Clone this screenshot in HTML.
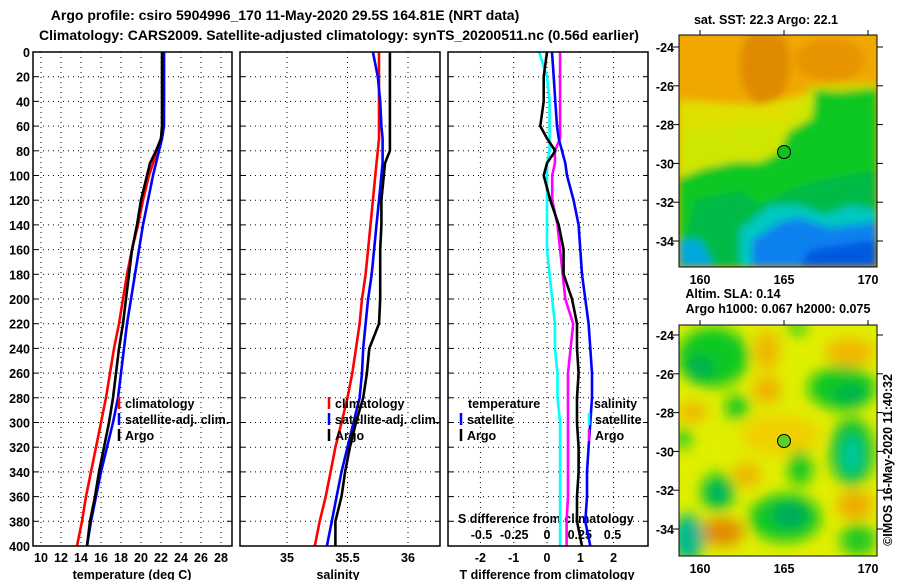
<!DOCTYPE html>
<html><head><meta charset="utf-8"><style>
html,body{margin:0;padding:0;background:#fff;}
svg{display:block;}
text{font-family:"Liberation Sans",Arial,sans-serif;font-weight:bold;font-size:12.5px;fill:#000;}
.t{font-size:14px;}
</style></head>
<body>
<svg id="chart" width="900" height="580" viewBox="0 0 900 580" xmlns="http://www.w3.org/2000/svg">
<defs>
<clipPath id="c1"><rect x="33" y="52" width="199" height="494"/></clipPath>
<clipPath id="c2"><rect x="240" y="52" width="200" height="494"/></clipPath>
<clipPath id="c3"><rect x="448" y="52" width="200" height="494"/></clipPath>
<clipPath id="cm1"><rect x="679" y="35" width="198" height="232"/></clipPath>
<clipPath id="cm2"><rect x="679" y="325" width="198" height="231"/></clipPath>
<filter id="bl" x="-10%" y="-10%" width="120%" height="120%"><feGaussianBlur stdDeviation="4"/></filter>
<filter id="bl2" x="-20%" y="-20%" width="140%" height="140%"><feGaussianBlur stdDeviation="7"/></filter>
</defs>
<text class="t" x="285" y="20" text-anchor="middle">Argo profile: csiro 5904996_170 11-May-2020 29.5S 164.81E (NRT data)</text>
<text class="t" x="339" y="40" text-anchor="middle">Climatology: CARS2009. Satellite-adjusted climatology: synTS_20200511.nc (0.56d earlier)</text>

<!-- top map -->
<g clip-path="url(#cm1)">
<rect x="679" y="35" width="198" height="232" fill="#f0a800"/>
<g filter="url(#bl)">
<ellipse cx="765" cy="65" rx="25" ry="40" fill="#e08a00"/>
<ellipse cx="830" cy="60" rx="35" ry="22" fill="#e89400"/>
<path d="M679,100 L760,105 L800,95 L877,90 L877,267 L679,267 Z" fill="#e0e000"/>
<path d="M679,130 L740,125 L790,120 L810,85 L877,82 L877,267 L679,267 Z" fill="#c8e800" opacity="0.7"/>
<path d="M679,178 L705,168 L735,162 L760,162 L780,152 L788,132 L812,118 L815,90 L840,92 L877,88 L877,267 L679,267 Z" fill="#10c820"/>
<path d="M695,200 L740,190 L760,205 L790,190 L820,180 L877,170 L877,267 L679,267 Z" fill="#00b060" opacity="0.6"/>
<path d="M740,230 L770,205 L800,205 L825,215 L850,205 L877,210 L877,267 L740,267 Z" fill="#00c8c0"/>
<path d="M752,267 L752,240 L780,222 L800,218 L830,228 L877,222 L877,267 Z" fill="#0a80f0"/>
<path d="M800,267 L810,250 L877,240 L877,267 Z" fill="#0058e0"/>
<path d="M679,240 L700,240 L715,267 L679,267 Z" fill="#00a8e0"/>
</g>
</g>
<rect x="679" y="35" width="198" height="232" fill="none" stroke="#000" stroke-width="1"/>
<circle cx="784" cy="152" r="6.5" fill="#10c020" stroke="#000" stroke-width="1"/>
<text x="766" y="24" text-anchor="middle">sat. SST: 22.3 Argo: 22.1</text>

<!-- bottom map -->
<g clip-path="url(#cm2)">
<rect x="679" y="325" width="198" height="231" fill="#e0ee00"/>
<g filter="url(#bl2)">
<ellipse cx="767" cy="350" rx="12" ry="20" fill="#f0b400"/>
<ellipse cx="767" cy="390" rx="14" ry="14" fill="#f0b000"/>
<ellipse cx="850" cy="352" rx="25" ry="14" fill="#f0b800"/>
<ellipse cx="693" cy="412" rx="14" ry="10" fill="#f0b400"/>
<ellipse cx="747" cy="475" rx="14" ry="12" fill="#f0b400"/>
<ellipse cx="722" cy="532" rx="22" ry="14" fill="#e08a00"/>
<ellipse cx="855" cy="505" rx="18" ry="14" fill="#f0a800"/>
<ellipse cx="780" cy="435" rx="40" ry="20" fill="#f0d000"/>
<ellipse cx="713" cy="357" rx="36" ry="30" fill="#10c820"/>
<ellipse cx="700" cy="368" rx="14" ry="12" fill="#00b050"/>
<ellipse cx="797" cy="328" rx="10" ry="6" fill="#10c820"/>
<ellipse cx="842" cy="388" rx="34" ry="22" fill="#10c820"/>
<ellipse cx="850" cy="395" rx="16" ry="10" fill="#00b050"/>
<ellipse cx="737" cy="407" rx="12" ry="12" fill="#10c820"/>
<ellipse cx="683" cy="438" rx="8" ry="10" fill="#10c820"/>
<ellipse cx="852" cy="452" rx="22" ry="34" fill="#10c030"/>
<ellipse cx="852" cy="455" rx="10" ry="20" fill="#00c8a0"/>
<ellipse cx="800" cy="468" rx="12" ry="18" fill="#10c820"/>
<ellipse cx="718" cy="492" rx="17" ry="19" fill="#10c820"/>
<ellipse cx="718" cy="493" rx="9" ry="10" fill="#00a870"/>
<ellipse cx="785" cy="518" rx="36" ry="24" fill="#10c820"/>
<ellipse cx="790" cy="515" rx="18" ry="12" fill="#00a860"/>
<ellipse cx="688" cy="538" rx="16" ry="24" fill="#00b890"/>
<ellipse cx="858" cy="540" rx="18" ry="16" fill="#20c820"/>
</g>
</g>
<rect x="679" y="325" width="198" height="231" fill="none" stroke="#000" stroke-width="1"/>
<circle cx="784" cy="441" r="6.5" fill="#60d020" stroke="#000" stroke-width="1"/>
<text x="733" y="298" text-anchor="middle">Altim. SLA: 0.14</text>
<text x="778" y="313" text-anchor="middle">Argo h1000: 0.067 h2000: 0.075</text>
<text transform="translate(892,460) rotate(-90)" text-anchor="middle">©IMOS 16-May-2020 11:40:32</text>
<g id="mapaxes"></g>

<g id="plots"></g>
</svg>
<script>
const depths=[0,20,40,60,70,80,90,100,120,140,160,180,200,220,240,260,280,300,320,340,360,380,400];
const tempClim=[22.3,22.3,22.3,22.2,22.0,21.6,21.2,20.8,20.2,19.7,19.1,18.6,18.2,17.8,17.3,16.9,16.5,16.0,15.5,15.0,14.5,14.1,13.6];
const tempSat=[22.3,22.3,22.3,22.3,22.1,21.8,21.5,21.2,20.7,20.2,19.8,19.4,19.0,18.6,18.3,18.0,17.7,17.2,16.6,16.0,15.5,15.0,14.6];
const tempArgo=[22.1,22.1,22.1,22.1,22.0,21.5,20.9,20.6,20.0,19.6,19.1,18.8,18.5,18.2,17.8,17.5,17.2,16.8,16.3,15.8,15.4,14.9,14.6];
const salClim=[35.76,35.76,35.76,35.76,35.76,35.75,35.74,35.73,35.71,35.69,35.67,35.65,35.62,35.60,35.57,35.54,35.50,35.45,35.40,35.36,35.32,35.27,35.23];
const salSat=[35.71,35.75,35.77,35.78,35.79,35.79,35.79,35.78,35.76,35.74,35.72,35.70,35.67,35.65,35.63,35.62,35.60,35.55,35.50,35.45,35.41,35.37,35.33];
const salArgo=[35.85,35.85,35.85,35.85,35.85,35.85,35.81,35.80,35.78,35.78,35.77,35.77,35.77,35.76,35.68,35.66,35.63,35.57,35.52,35.48,35.45,35.40,35.40];
const dTsat=[0.15,0.2,0.25,0.3,0.35,0.45,0.55,0.6,0.8,0.95,1.0,1.05,1.15,1.25,1.3,1.35,1.35,1.3,1.25,1.2,1.2,1.15,1.3];
const dTargo=[0.0,-0.1,-0.1,-0.2,0.0,0.25,0.0,-0.1,0.1,0.35,0.5,0.5,0.75,0.9,0.9,0.95,0.9,0.9,0.95,0.95,0.9,0.9,1.05];
const dSsat=[-0.06,0.0,0.02,0.02,0.02,0.02,0.0,0.0,0.0,0.0,0.0,0.02,0.04,0.06,0.06,0.08,0.08,0.1,0.1,0.1,0.1,0.1,0.1];
const dSargo=[0.1,0.1,0.1,0.1,0.1,0.06,0.06,0.04,0.04,0.08,0.1,0.12,0.14,0.2,0.18,0.16,0.16,0.16,0.16,0.16,0.16,0.15,0.15];
const depthTicks=[0,20,40,60,80,100,120,140,160,180,200,220,240,260,280,300,320,340,360,380,400];
const tempTicks=[10,12,14,16,18,20,22,24,26,28];
const salTicks=[35,35.5,36];
const dTTicks=[-2,-1,0,1,2];
const dSTicks=[-0.5,-0.25,0,0.25,0.5];
const latTicks=[-24,-26,-28,-30,-32,-34];
const lonTicks=[160,165,170];

const NS='http://www.w3.org/2000/svg';
const plots=document.getElementById('plots');
const yD=d=>52+d*1.235;
const xT=t=>41+(t-10)*10;
const xS=s=>287+(s-35)*121;
const xDT=v=>547+v*33.3;
const xDS=v=>547+v*131;
function mk(tag,at,parent){const e=document.createElementNS(NS,tag);for(const k in at)e.setAttribute(k,at[k]);(parent||plots).appendChild(e);return e;}
function txt(x,y,s,anchor,name){const e=mk('text',{x:x,y:y,'text-anchor':anchor||'start'});e.textContent=s;

return e;}

const panels=[[33,232,'c1'],[240,440,'c2'],[448,648,'c3']];
depthTicks.forEach(d=>{panels.forEach(p=>{
 const l=mk('line',{x1:p[0],x2:p[1],y1:yD(d),y2:yD(d),stroke:'#000','stroke-width':1,'stroke-dasharray':'1,4'});
 
 
 const t=mk('line',{x1:p[0],x2:p[0]+5,y1:yD(d),y2:yD(d),stroke:'#000','stroke-width':1});
 
 
 const t2=mk('line',{x1:p[1]-5,x2:p[1],y1:yD(d),y2:yD(d),stroke:'#000','stroke-width':1});
 
 
});
 txt(30,yD(d)+5,String(d),'end','depth-tick-label');
});
function vgrid(ticks,fx,name){ticks.forEach(v=>{const l=mk('line',{x1:fx(v),x2:fx(v),y1:52,y2:546,stroke:'#000','stroke-width':1,'stroke-dasharray':'1,4'});

});}
vgrid(tempTicks,xT,'temperature-gridline');
vgrid(salTicks,xS,'salinity-gridline');
vgrid(dTTicks,xDT,'t-difference-gridline');
tempTicks.forEach(v=>txt(xT(v),562,String(v),'middle','temperature-tick-label'));
salTicks.forEach(v=>txt(xS(v),562,String(v),'middle','salinity-tick-label'));
dTTicks.forEach(v=>txt(xDT(v),562,String(v),'middle','t-difference-tick-label'));
dSTicks.forEach(v=>txt(xDS(v),539,String(v),'middle','s-difference-tick-label'));
txt(132,579,'temperature (deg C)','middle','temperature-axis-title');
txt(338,579,'salinity','middle','salinity-axis-title');
txt(547,579,'T difference from climatology','middle','t-difference-axis-title');
txt(458,523,'S difference from climatology','start','s-difference-axis-title');

function line(vals,fx,color,clip,name){
 const pts=vals.map((v,i)=>fx(v).toFixed(1)+','+yD(depths[i]).toFixed(1)).join(' ');
 const e=mk('polyline',{points:pts,fill:'none',stroke:color,'stroke-width':2.6,'clip-path':'url(#'+clip+')','stroke-linejoin':'round'});
 
 
}
line(tempClim,xT,'#ff0000','c1','temperature-climatology-line');
line(tempSat,xT,'#0000ff','c1','temperature-satellite-line');
line(tempArgo,xT,'#000000','c1','temperature-argo-line');
line(salClim,xS,'#ff0000','c2','salinity-climatology-line');
line(salSat,xS,'#0000ff','c2','salinity-satellite-line');
line(salArgo,xS,'#000000','c2','salinity-argo-line');
line(dSsat,xDS,'#00ffff','c3','s-difference-satellite-line');
line(dSargo,xDS,'#ff00ff','c3','s-difference-argo-line');
line(dTsat,xDT,'#0000ff','c3','t-difference-satellite-line');
line(dTargo,xDT,'#000000','c3','t-difference-argo-line');

panels.forEach(p=>{const r=mk('rect',{x:p[0],y:52,width:p[1]-p[0],height:494,fill:'none',stroke:'#000','stroke-width':1.5});

});

function legend(x,y,color,label,name){
 const m=mk('line',{x1:x,x2:x,y1:y-11,y2:y+1,stroke:color,'stroke-width':2.5});
 
 
 txt(x+6,y,label,'start',name+'-label');
}
legend(119,408,'#ff0000','climatology','legend-climatology');
legend(119,424,'#0000ff','satellite-adj. clim.','legend-satellite-adj');
legend(119,440,'#000000','Argo','legend-argo');
legend(329,408,'#ff0000','climatology','legend-climatology');
legend(329,424,'#0000ff','satellite-adj. clim.','legend-satellite-adj');
legend(329,440,'#000000','Argo','legend-argo');
txt(468,408,'temperature','start','legend-temperature-heading');
legend(461,424,'#0000ff','satellite','legend-t-satellite');
legend(461,440,'#000000','Argo','legend-t-argo');
txt(594,408,'salinity','start','legend-salinity-heading');
legend(589,424,'#00ffff','satellite','legend-s-satellite');
legend(589,440,'#ff00ff','Argo','legend-s-argo');

const ma=document.getElementById('mapaxes');
[[35,47],[325,335]].forEach(m=>{
 latTicks.forEach(v=>{const y=m[1]+(-24-v)*19.4;
  const t=mk('text',{x:674,y:y+5,'text-anchor':'end'},ma);t.textContent=String(v);
  
  
  mk('line',{x1:877,x2:883,y1:y,y2:y,stroke:'#000'},ma);
  mk('line',{x1:673,x2:679,y1:y,y2:y,stroke:'#000'},ma);
 });
 lonTicks.forEach(v=>{const x=700+(v-160)*16.8;
  const yb=m[0]===35?267:556;
  const t=mk('text',{x:x,y:yb+17,'text-anchor':'middle'},ma);t.textContent=String(v);
  
  
  mk('line',{x1:x,x2:x,y1:m[0]-5,y2:m[0],stroke:'#000'},ma);
 });
});
</script>
</body></html>
